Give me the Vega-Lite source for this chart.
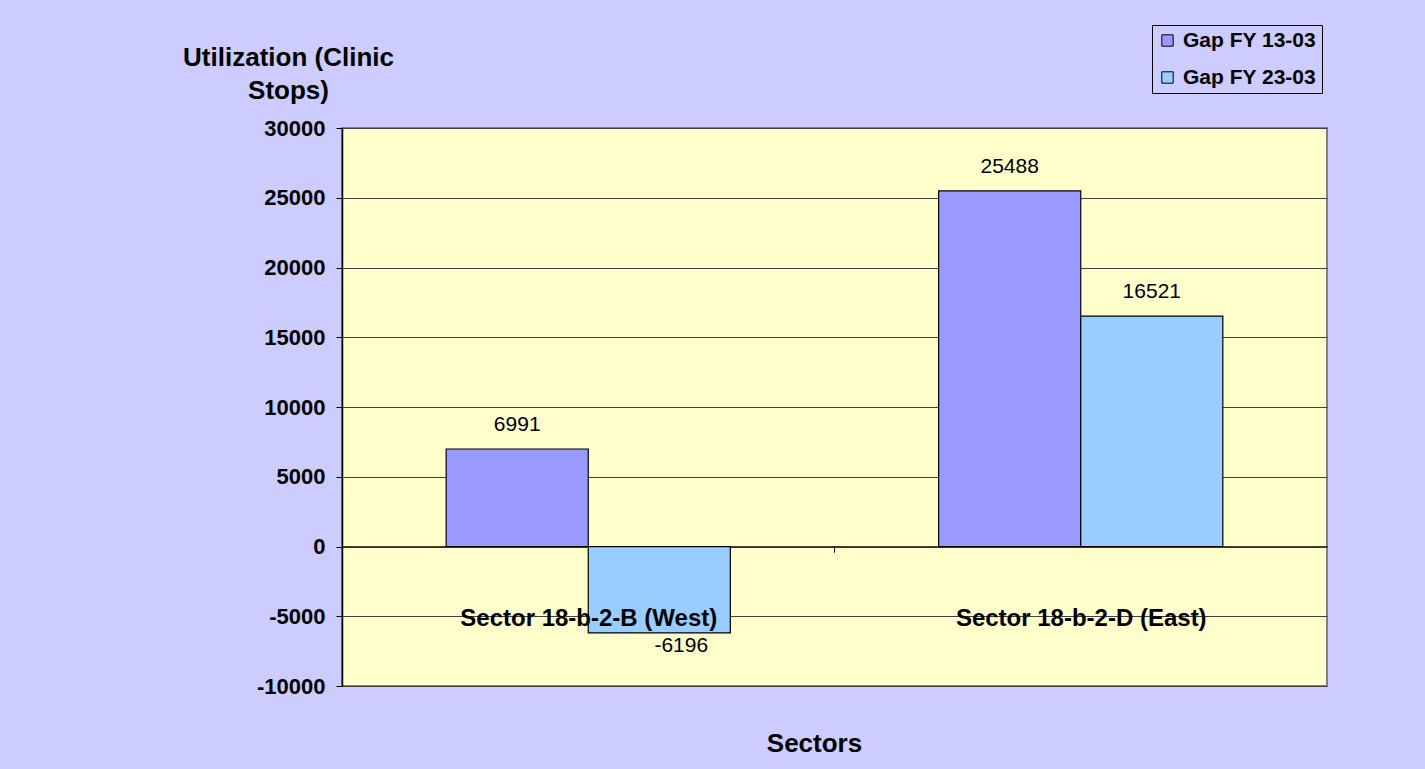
{
  "$schema": "https://vega.github.io/schema/vega-lite/v6.json",
  "width": 985,
  "height": 558,
  "autosize": {"type": "none"},
  "padding": {"left": 342, "top": 128, "right": 98, "bottom": 83},
  "background": "#CCCCFF",
  "config": {
    "font": "Liberation Sans",
    "view": {"fill": "#FFFFCC", "stroke": "#808080", "strokeWidth": 2}
  },
  "data": {
    "values": [
      {"sector": "Sector 18-b-2-B (West)", "series": "Gap FY 13-03", "value": 6991},
      {"sector": "Sector 18-b-2-B (West)", "series": "Gap FY 23-03", "value": -6196},
      {"sector": "Sector 18-b-2-D (East)", "series": "Gap FY 13-03", "value": 25488},
      {"sector": "Sector 18-b-2-D (East)", "series": "Gap FY 23-03", "value": 16521}
    ]
  },
  "encoding": {
    "x": {
      "field": "sector",
      "type": "nominal",
      "sort": null,
      "scale": {"paddingInner": 0.423, "paddingOuter": 0.2115},
      "axis": {
        "orient": "bottom",
        "offset": -139.75,
        "zindex": 1,
        "grid": false,
        "domainColor": "#000000",
        "domainWidth": 1,
        "tickColor": "#000000",
        "tickSize": 6,
        "tickOffset": -246.25,
        "labelOffset": 246.25,
        "labelAngle": 0,
        "labelLimit": 0,
        "labelFont": "Liberation Sans",
        "labelFontSize": 24,
        "labelFontWeight": "bold",
        "labelColor": "#000000",
        "labelPadding": 54,
        "title": "Sectors",
        "titleFont": "Liberation Sans",
        "titleFontSize": 26,
        "titleFontWeight": "bold",
        "titleColor": "#000000",
        "titleX": 472,
        "titleY": 205,
        "titleBaseline": "alphabetic",
        "titleAlign": "center"
      }
    },
    "xOffset": {"field": "series", "type": "nominal", "sort": null},
    "y": {
      "field": "value",
      "type": "quantitative",
      "scale": {"domain": [-10000, 30000], "nice": false, "zero": false},
      "axis": {
        "values": [-10000, -5000, 0, 5000, 10000, 15000, 20000, 25000, 30000],
        "labelExpr": "'' + datum.value",
        "grid": true,
        "gridColor": "#404040",
        "gridWidth": 1,
        "domainColor": "#000000",
        "domainWidth": 1.5,
        "tickColor": "#000000",
        "tickSize": 6,
        "labelFont": "Liberation Sans",
        "labelFontSize": 22,
        "labelFontWeight": "bold",
        "labelColor": "#000000",
        "labelPadding": 11,
        "title": ["Utilization (Clinic", "Stops)"],
        "titleFont": "Liberation Sans",
        "titleFontSize": 26,
        "titleFontWeight": "bold",
        "titleColor": "#000000",
        "titleAngle": 0,
        "titleAlign": "center",
        "titleBaseline": "alphabetic",
        "titleX": -54,
        "titleY": -63,
        "titleLineHeight": 33
      }
    }
  },
  "layer": [
    {
      "mark": {"type": "bar", "stroke": "#000000", "strokeWidth": 1.2},
      "encoding": {
        "color": {
          "field": "series",
          "type": "nominal",
          "sort": null,
          "scale": {"domain": ["Gap FY 13-03", "Gap FY 23-03"], "range": ["#9999FF", "#99CCFF"]},
          "legend": {
            "orient": "none",
            "legendX": 810,
            "legendY": -103,
            "title": null,
            "labelFont": "Liberation Sans",
            "labelFontSize": 21,
            "labelFontWeight": "bold",
            "labelColor": "#000000",
            "labelOffset": 5,
            "symbolType": "square",
            "symbolSize": 130,
            "symbolStrokeColor": "#000000",
            "symbolStrokeWidth": 1,
            "symbolOpacity": 1,
            "strokeColor": "#000000",
            "fillColor": "#CCCCFF",
            "padding": 5,
            "rowPadding": 15
          }
        }
      }
    },
    {
      "transform": [{"filter": "datum.value >= 0"}],
      "mark": {"type": "text", "baseline": "middle", "align": "center", "dy": -24, "font": "Liberation Sans", "fontSize": 21, "color": "#000000"},
      "encoding": {"text": {"field": "value", "type": "nominal"}}
    },
    {
      "transform": [{"filter": "datum.value < 0"}],
      "mark": {"type": "text", "baseline": "middle", "align": "center", "dy": 13, "dx": 22, "font": "Liberation Sans", "fontSize": 21, "color": "#000000"},
      "encoding": {"text": {"field": "value", "type": "nominal"}}
    }
  ]
}
